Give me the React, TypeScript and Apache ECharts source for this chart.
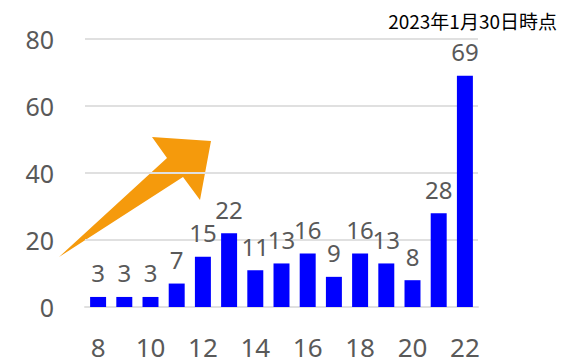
import React, { useEffect, useRef } from "react";
import * as echarts from "echarts";

const categories = ["8", "9", "10", "11", "12", "13", "14", "15", "16", "17", "18", "19", "20", "21", "22"];
const values = [3, 3, 3, 7, 15, 22, 11, 13, 16, 9, 16, 13, 8, 28, 69];
const titleText = "2023年1月30日時点";

export default function App() {
  const ref = useRef<HTMLDivElement>(null);
  useEffect(() => {
    if (!ref.current) return;
    const chart = echarts.init(ref.current, null, { renderer: "svg" });
    chart.setOption({
      animation: false,
      backgroundColor: "#ffffff",
      title: {
        text: titleText,
        right: 9,
        top: 6,
        textStyle: { fontSize: 19, fontWeight: "normal", color: "#000", fontFamily: "Noto Sans CJK JP" },
      },
      grid: { left: 85, right: 93, top: 39, bottom: 57, containLabel: false },
      xAxis: {
        type: "category",
        data: categories,
        axisTick: { show: false },
        axisLine: { lineStyle: { color: "#e0e0e0", width: 2 } },
        axisLabel: { interval: 1, fontSize: 26, color: "#595959", margin: 27, fontFamily: "Noto Sans" },
      },
      yAxis: {
        type: "value",
        min: 0,
        max: 80,
        interval: 20,
        axisLine: { show: false },
        axisTick: { show: false },
        splitLine: { lineStyle: { color: "#e0e0e0", width: 2 } },
        axisLabel: { fontSize: 25, color: "#595959", margin: 31, fontFamily: "Noto Sans" },
      },
      series: [
        {
          type: "bar",
          data: values,
          barWidth: "61%",
          itemStyle: { color: "#0000ff" },
          label: { show: true, position: "top", distance: 12, fontSize: 24, color: "#595959", fontFamily: "Noto Sans" },
        },
      ],
      graphic: [
        {
          type: "polygon",
          shape: {
            points: [
              [59, 257],
              [167, 158],
              [152, 137],
              [211, 141],
              [200, 200],
              [183, 177],
            ],
          },
          style: { fill: "#f59a0c" },
        },
      ],
    });
    return () => chart.dispose();
  }, []);
  return <div ref={ref} style={{ position: "fixed", left: 0, top: 0, width: 571, height: 364 }} />;
}
